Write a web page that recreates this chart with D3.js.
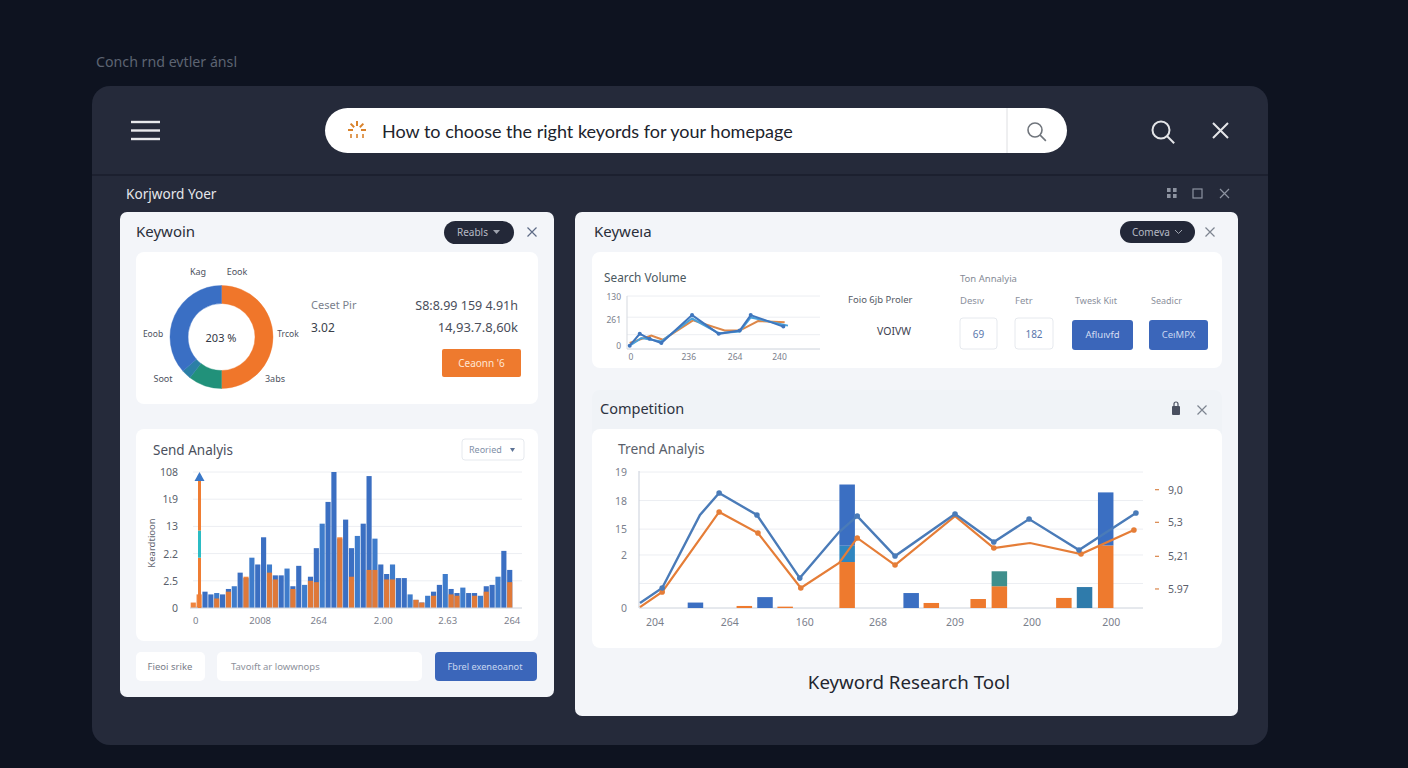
<!DOCTYPE html>
<html lang="en">
<head>
  <meta charset="UTF-8">
  <title>Keyword Research Tool</title>
  <style>
  html, body { margin: 0; padding: 0; background: #0e1320; overflow: hidden; }
  svg { display: block; }
  text { font-family: "Noto Sans", sans-serif; }
  </style>
</head>
<body>
  <div class="dashboard"></div>

  <script src="https://d3js.org/d3.v7.min.js"></script>
  <script>
// donut
const donutValues = [50, 10.5, 3, 36.5]
const donutColors = ["#f0762a", "#21917a", "#2b7fa6", "#3a6fc4"]

// send analysis bars, blue and orange share the categories
const sendBlue = [0, 1, 12, 10, 11, 10, 14, 16, 26, 22, 37, 32, 52, 32, 24, 24, 29, 16, 31, 17, 23, 44, 62, 78, 100, 51, 65, 44, 53, 62, 97, 51, 32, 25, 32, 22, 22, 10, 6, 4, 9, 12, 17, 25, 14, 11, 15, 11, 11, 9, 16, 17, 23, 42, 28]
const sendOrange = [4, 10, 0, 0, 7, 0, 12, 0, 0, 23, 0, 0, 0, 26, 21, 0, 0, 14, 0, 0, 20, 19, 0, 0, 0, 52, 0, 23, 0, 0, 28, 28, 0, 21, 21, 0, 0, 0, 6, 4, 0, 9, 0, 0, 10, 9, 0, 0, 9, 0, 12, 0, 0, 0, 19]
const sendTicks = [0, 20, 40, 60, 80, 100]
const sendTickLabels = ["0", "2.5", "2.2", "13", "1ι9", "108"]
const sendXTicks = [0, 11, 21, 32, 43, 54]
const sendXLabels = ["0", "2008", "264", "2.00", "2.63", "264"]
// coloured arrow axis: orange, teal, orange
const arrowSegments = [[0, 37, "#ef7d33"], [37, 57, "#2bbcc4"], [57, 98, "#ef7d33"]]

// search volume lines
const volBlueX = [1.4, 6.6, 11.7, 17.8, 33.7, 47.5, 58.4, 64.1, 81]
const volBlueY = [6.2, 28.6, 19.3, 11.2, 64, 28.6, 34.8, 64, 42.3]
const volLightX = [2.2, 7.4, 17.8, 33.7, 47.5, 58.4, 64.1, 83.4]
const volLightY = [8, 20.5, 14.4, 57.5, 29.8, 32.9, 59.6, 44.1]
const volOrangeX = [1.4, 12.6, 18.6, 34.2, 50.6, 58.4, 67.9, 81.7]
const volOrangeY = [11.2, 25.5, 17.4, 54, 34.8, 34.8, 52.8, 50.7]
const volGrid = [27, 60, 100]
const volTicks = [7, 55, 100]
const volTickLabels = ["0", "261", "130"]
const volXTicks = [2, 32, 56, 79]
const volXLabels = ["0", "236", "264", "240"]

// trend analysis lines
const trendBlueX = [0.2, 4.6, 12.1, 15.9, 23.4, 31.9, 39.7, 43.3, 50.8, 62.7, 70.4, 77.4, 87.3, 98.6]
const trendBlueY = [3.7, 14.7, 68.4, 84.6, 68.4, 22, 55.9, 67.6, 38.2, 69.1, 48.5, 65.4, 42.6, 69.9]
const trendOrangeX = [0.2, 4.6, 15.9, 23.6, 32.1, 39.7, 43.3, 50.8, 62.7, 70.4, 77.6, 87.7, 98.2]
const trendOrangeY = [0.7, 11.8, 70.6, 55.1, 14.7, 33.1, 51.5, 31.6, 67.6, 44.1, 47.8, 39.7, 57.4]
const trendDotsBlue = [4.6, 15.9, 23.4, 31.9, 43.3, 50.8, 62.7, 70.4, 77.4, 87.3, 98.6]
const trendDotsOrange = [4.6, 15.9, 23.6, 32.1, 43.3, 50.8, 70.4, 87.7, 98.2]

// trend analysis bars
const trendBarX = [11.2, 20.9, 25, 29, 41.3, 54, 58, 67.3, 71.5, 84.3, 88.4, 92.6]
const trendBarOrange = [0, 1.5, 0, 1, 33.8, 0, 3.7, 6.6, 16, 7.4, 0, 46]
const trendBarMid = [0, 0, 0, 0, 12, 0, 0, 0, 11, 0, 15.4, 0]
const trendBarBlue = [4, 0, 8, 0, 45, 11, 0, 0, 0, 0, 0, 39]
const trendTicks = [0, 18, 39, 58, 79, 100]
const trendTickLabels = ["0", "", "2", "15", "18", "19"]
const trendXTicks = [3.2, 18, 32.9, 47.4, 62.7, 78, 93.7]
const trendXLabels = ["204", "264", "160", "268", "209", "200", "200"]
const trendRightTicks = [87, 63, 38, 14]
const trendRightLabels = ["9,0", "5,3", "5,21", "5.97"]

const blue = "#3b6fc2"
const orange = "#ee7a2e"

const svg = d3.select(".dashboard").append("svg")
  .attr("width", 1408)
  .attr("height", 768)

const box = (x, y, w, h, r, fill, stroke) => svg.append("rect")
  .attr("x", x).attr("y", y).attr("width", w).attr("height", h)
  .attr("rx", r)
  .attr("fill", fill)
  .attr("stroke", stroke || "none")

const label = (x, y, str, size, fill, anchor, weight) => svg.append("text")
  .attr("x", x).attr("y", y)
  .attr("font-size", size)
  .attr("fill", fill)
  .attr("text-anchor", anchor || "start")
  .attr("font-weight", weight || 400)
  .text(str)

const crossMark = (cx, cy, r, color, w) => svg.append("path")
  .attr("d", `M${cx - r},${cy - r}L${cx + r},${cy + r}M${cx + r},${cy - r}L${cx - r},${cy + r}`)
  .attr("stroke", color)
  .attr("stroke-width", w)
  .attr("fill", "none")

const lens = (cx, cy, r, color, w) => {
  svg.append("circle").attr("cx", cx).attr("cy", cy).attr("r", r)
    .attr("fill", "none").attr("stroke", color).attr("stroke-width", w)
  svg.append("path").attr("d", `M${cx + r * 0.7},${cy + r * 0.7}L${cx + r * 1.55},${cy + r * 1.55}`)
    .attr("stroke", color).attr("stroke-width", w)
}

// shell
label(96, 67, "Conch rnd evtler ánsl", 14.2, "#5d6472")
box(92, 86, 1176, 659, 18, "#252a3a")
svg.append("line").attr("x1", 92).attr("x2", 1268).attr("y1", 175).attr("y2", 175)
  .attr("stroke", "#1a1e2c").attr("stroke-width", 1.5)

// top bar
d3.range(3).forEach(i => {
  svg.append("line").attr("x1", 131).attr("x2", 160)
    .attr("y1", 122 + i * 8.5).attr("y2", 122 + i * 8.5)
    .attr("stroke", "#e8e9ec").attr("stroke-width", 2.4)
})
box(325, 108, 742, 45, 22.5, "#ffffff")
svg.append("line").attr("x1", 1007).attr("x2", 1007).attr("y1", 108).attr("y2", 153)
  .attr("stroke", "#dedfe2")
// small sparkle mark in front of the query
d3.range(5).forEach(i => {
  const a = -Math.PI + i * Math.PI / 4
  svg.append("line")
    .attr("x1", 357 + 4 * Math.cos(a)).attr("y1", 130 + 4 * Math.sin(a))
    .attr("x2", 357 + 9 * Math.cos(a)).attr("y2", 130 + 9 * Math.sin(a))
    .attr("stroke", "#d9822b").attr("stroke-width", 2)
})
d3.range(3).forEach(i => {
  svg.append("line")
    .attr("x1", 351 + i * 6).attr("x2", 351 + i * 6)
    .attr("y1", 134).attr("y2", 138)
    .attr("stroke", "#d9822b").attr("stroke-width", 1.6)
})
label(382, 138, "How to choose the right keyords for your homepage", 18, "#20232c")
  .style("font-family", "Lato")
lens(1035, 130, 7, "#70757c", 1.6)
lens(1161, 130, 8.5, "#e4e5e8", 2)
crossMark(1220.5, 130.5, 7.5, "#e4e5e8", 2)

label(126, 199, "Korjword Yoer", 13.6, "#e6e7ea")
d3.range(4).forEach(i => {
  svg.append("rect")
    .attr("x", 1167 + (i % 2) * 6).attr("y", 188 + Math.floor(i / 2) * 6)
    .attr("width", 3.6).attr("height", 4)
    .attr("fill", "#8d93a0")
})
svg.append("rect").attr("x", 1193).attr("y", 189).attr("width", 9).attr("height", 9)
  .attr("fill", "none").attr("stroke", "#8d93a0").attr("stroke-width", 1.2)
crossMark(1224.5, 193.5, 4.5, "#8d93a0", 1.2)

// left card
box(120, 212, 434, 485, 7, "#f3f5f9")
label(136, 237, "Keywoin", 15, "#2a2e3a")
box(444, 221, 70, 23, 11.5, "#232838")
label(457, 236, "Reabls", 10, "#b6bac4")
svg.append("path").attr("d", "M493,230l7,0l-3.5,4z").attr("fill", "#9ea3ae")
crossMark(532, 232, 4.5, "#5d6b86", 1.2)
box(136, 252, 402, 152, 8, "#ffffff")

const pie = d3.pie().sort(null)
const arc = d3.arc().innerRadius(33.5).outerRadius(51.5)
const donut = svg.append("g").attr("transform", "translate(221.5,337)")
donut.selectAll("path")
  .data(pie(donutValues))
  .join("path")
  .attr("d", arc)
  .attr("fill", (d, i) => donutColors[i])
  .attr("stroke", (d, i) => donutColors[i])
  .attr("stroke-width", 0.4)
label(221, 342, "203 %", 11, "#333745", "middle")
label(198, 275, "Kag", 9, "#4d5260", "middle")
label(237, 275, "Eook", 9, "#4d5260", "middle")
label(153, 337, "Eoob", 8.5, "#4d5260", "middle")
label(288, 337, "Trcok", 8.5, "#4d5260", "middle")
label(163, 382, "Soot", 9, "#4d5260", "middle")
label(275, 382, "3abs", 9, "#4d5260", "middle")

label(311, 309, "Ceset Pir", 11, "#7a7f8c")
label(311, 332, "3.02", 12, "#3b3f4b")
label(518, 310, "S8:8.99 159 4.91h", 12.5, "#4a4e5a", "end")
label(518, 332, "14,93.7.8,60k", 13, "#4a4e5a", "end")
box(442, 349, 79, 28, 2, orange)
label(481.5, 367, "Ceaonn '6", 10, "#ffe6d4", "middle")

box(136, 429, 402, 212, 8, "#ffffff")
label(153, 455, "Send Analyis", 13.5, "#4a4f5c")
box(462, 439, 62, 21, 3, "#ffffff", "#e6e9ee")
label(469, 453, "Reoried", 9, "#8190a8")
svg.append("path").attr("d", "M510,448l5,0l-2.5,4z").attr("fill", "#5d7396")

// send analysis chart
const sendY = d3.scaleLinear().domain([0, 100]).range([608, 472])
const sendX = d3.scaleBand().domain(d3.range(sendBlue.length)).range([190, 513]).padding(0.12)

const sendGrid = svg.append("g")
sendGrid.selectAll("line").data(sendTicks.slice(1)).join("line")
  .attr("x1", 193).attr("x2", 522)
  .attr("y1", d => sendY(d)).attr("y2", d => sendY(d))
  .attr("stroke", "#eceef2")

svg.append("g").selectAll("rect").data(sendBlue).join("rect")
  .attr("x", (d, i) => sendX(i))
  .attr("y", d => sendY(d))
  .attr("width", sendX.bandwidth())
  .attr("height", d => sendY(0) - sendY(d))
  .attr("fill", (d, i) => i % 3 === 1 ? "#3f7ccb" : blue)
svg.append("g").selectAll("rect").data(sendOrange).join("rect")
  .attr("x", (d, i) => sendX(i))
  .attr("y", d => sendY(d))
  .attr("width", sendX.bandwidth())
  .attr("height", d => sendY(0) - sendY(d))
  .attr("fill", orange)
  .attr("opacity", 0.92)

svg.append("line").attr("x1", 190).attr("x2", 522).attr("y1", sendY(0)).attr("y2", sendY(0))
  .attr("stroke", "#ccd2db")

svg.append("g").selectAll("rect").data(arrowSegments).join("rect")
  .attr("x", 198)
  .attr("y", d => sendY(d[1]))
  .attr("width", 3)
  .attr("height", d => sendY(d[0]) - sendY(d[1]))
  .attr("fill", d => d[2])
svg.append("path").attr("d", `M199.5,${sendY(100)}l5,9l-10,0z`).attr("fill", "#3a78c8")

svg.append("g").selectAll("text").data(sendTicks).join("text")
  .attr("x", 178).attr("y", d => sendY(d) + 4)
  .attr("text-anchor", "end")
  .attr("font-size", 10.5).attr("fill", "#5a5f6b")
  .text((d, i) => sendTickLabels[i])
svg.append("g").selectAll("text").data(sendXTicks).join("text")
  .attr("x", d => sendX(d) + 5).attr("y", 624)
  .attr("text-anchor", "middle")
  .attr("font-size", 9.5).attr("fill", "#7b808c")
  .text((d, i) => sendXLabels[i])
svg.append("text")
  .attr("transform", "translate(155,543) rotate(-90)")
  .attr("text-anchor", "middle")
  .attr("font-size", 9.5).attr("fill", "#5f6470")
  .text("Keardtioon")

// left footer
box(136, 652, 69, 29, 5, "#ffffff")
label(170, 670, "Fieoi srike", 9.5, "#777c88", "middle")
box(217, 652, 205, 29, 5, "#ffffff")
label(231, 670, "Tavoıft ar lowwnops", 9.5, "#8d919b")
box(435, 652, 102, 29, 4, "#3b66ba")
label(485, 670, "Fbrel exeneoanot", 9.2, "#c8d6f0", "middle")

// right card
box(575, 212, 663, 504, 7, "#f3f5f9")
label(594, 237, "Keyweıa", 15, "#2a2e3a")
box(1120, 221, 75, 22, 11, "#232838")
label(1132, 236, "Comeva", 10, "#b6bac4")
svg.append("path").attr("d", "M1175,230l3.5,3.5l3.5,-3.5").attr("fill", "none").attr("stroke", "#9ea3ae")
crossMark(1210, 232, 4.5, "#7d8490", 1.2)
box(592, 252, 630, 116, 8, "#ffffff")

// search volume chart
const volX = d3.scaleLinear().domain([0, 100]).range([627, 820])
const volY = d3.scaleLinear().domain([0, 100]).range([349, 296])
label(604, 282, "Search Volume", 11.8, "#4a5860")
svg.append("g").selectAll("line").data(volGrid).join("line")
  .attr("x1", 627).attr("x2", 820)
  .attr("y1", d => volY(d)).attr("y2", d => volY(d))
  .attr("stroke", "#eceef2")
svg.append("line").attr("x1", 627).attr("x2", 627).attr("y1", 296).attr("y2", 349).attr("stroke", "#d5d9df")
svg.append("line").attr("x1", 627).attr("x2", 820).attr("y1", 349).attr("y2", 349).attr("stroke", "#ccd2db")
svg.append("g").selectAll("text").data(volTicks).join("text")
  .attr("x", 621).attr("y", d => volY(d) + 3.5)
  .attr("text-anchor", "end")
  .attr("font-size", 8.5).attr("fill", "#7b808c")
  .text((d, i) => volTickLabels[i])
svg.append("g").selectAll("text").data(volXTicks).join("text")
  .attr("x", d => volX(d)).attr("y", 360)
  .attr("text-anchor", "middle")
  .attr("font-size", 8.5).attr("fill", "#7b808c")
  .text((d, i) => volXLabels[i])

const volLine = d3.line().x(d => volX(d[0])).y(d => volY(d[1]))
const volSeries = [
  [d3.zip(volOrangeX, volOrangeY), "#dd8748"],
  [d3.zip(volLightX, volLightY), "#4aa0d8"],
  [d3.zip(volBlueX, volBlueY), "#3f76bd"]
]
volSeries.forEach(s => {
  svg.append("path").attr("d", volLine(s[0]))
    .attr("fill", "none").attr("stroke", s[1]).attr("stroke-width", 2)
})
svg.append("g").selectAll("circle").data(d3.zip(volBlueX, volBlueY)).join("circle")
  .attr("cx", d => volX(d[0])).attr("cy", d => volY(d[1])).attr("r", 2)
  .attr("fill", "#3f76bd")

label(848, 303, "Foio 6jb Proler", 9.5, "#555a66")
label(877, 335, "VOIVW", 10.5, "#3d4250")
label(960, 282, "Ton Annalyia", 9.5, "#858a96")
label(960, 304, "Desıv", 9.5, "#8b909c")
label(1015, 304, "Fetr", 9.5, "#8b909c")
label(1075, 304, "Twesk Kiıt", 9, "#8b909c")
label(1151, 304, "Seadicr", 9, "#8b909c")
box(960, 318, 37, 31, 3, "#ffffff", "#e6e9ee")
label(978.5, 338, "69", 10, "#5a78ad", "middle")
box(1015, 318, 38, 31, 3, "#ffffff", "#e6e9ee")
label(1034, 338, "182", 10, "#5a78ad", "middle")
box(1072, 320, 61, 30, 3, "#3b66ba")
label(1102.5, 338, "Afluıvfd", 9.5, "#d5dff2", "middle")
box(1149, 320, 59, 30, 3, "#3b66ba")
label(1178.5, 338, "CeıMPX", 9.5, "#c8d6f0", "middle")

// competition block
box(592, 390, 630, 258, 8, "#f0f3f7")
label(600, 414, "Competition", 14.5, "#2d3240")
svg.append("rect").attr("x", 1172).attr("y", 406).attr("width", 8).attr("height", 9).attr("rx", 1).attr("fill", "#4a5060")
svg.append("path").attr("d", "M1174,406v-2a2,2 0 0 1 4,0v2").attr("fill", "none").attr("stroke", "#4a5060").attr("stroke-width", 1.2)
crossMark(1202, 410, 4.5, "#7d8490", 1.2)
box(592, 429, 630, 219, 8, "#ffffff")
label(618, 454, "Trend Analyis", 13.8, "#5a5f6b")

// trend chart
const trendX = d3.scaleLinear().domain([0, 100]).range([639, 1143])
const trendY = d3.scaleLinear().domain([0, 100]).range([608, 472])

svg.append("g").selectAll("line").data(trendTicks.slice(1)).join("line")
  .attr("x1", 639).attr("x2", 1143)
  .attr("y1", d => trendY(d)).attr("y2", d => trendY(d))
  .attr("stroke", "#eceef2")
svg.append("line").attr("x1", 639).attr("x2", 639).attr("y1", 471).attr("y2", 608).attr("stroke", "#c9cfda")
svg.append("line").attr("x1", 639).attr("x2", 1143).attr("y1", 608).attr("y2", 608).attr("stroke", "#ccd2db")

const barW = 15.5
const bars = svg.append("g")
trendBarX.forEach((x, i) => {
  const o = trendBarOrange[i], m = trendBarMid[i], b = trendBarBlue[i]
  const midColor = o > 0 && b > 0 ? "#2f86c0" : (o > 0 ? "#3f8f8c" : "#2f7bab")
  const stack = [[0, o, orange], [o, o + m, midColor], [o + m, o + m + b, blue]]
  bars.selectAll(null).data(stack.filter(s => s[1] > s[0])).join("rect")
    .attr("x", trendX(x) - barW / 2)
    .attr("y", s => trendY(s[1]))
    .attr("width", barW)
    .attr("height", s => trendY(s[0]) - trendY(s[1]))
    .attr("fill", s => s[2])
})

const trendLine = d3.line().x(d => trendX(d[0])).y(d => trendY(d[1]))
const trendOrangePts = d3.zip(trendOrangeX, trendOrangeY)
const trendBluePts = d3.zip(trendBlueX, trendBlueY)
svg.append("path").attr("d", trendLine(trendOrangePts))
  .attr("fill", "none").attr("stroke", "#e57d37").attr("stroke-width", 2.2)
svg.append("path").attr("d", trendLine(trendBluePts))
  .attr("fill", "none").attr("stroke", "#4a7bb8").attr("stroke-width", 2.4)
svg.append("g").selectAll("circle").data(trendOrangePts.filter(d => trendDotsOrange.includes(d[0]))).join("circle")
  .attr("cx", d => trendX(d[0])).attr("cy", d => trendY(d[1])).attr("r", 2.8)
  .attr("fill", "#e57d37")
svg.append("g").selectAll("circle").data(trendBluePts.filter(d => trendDotsBlue.includes(d[0]))).join("circle")
  .attr("cx", d => trendX(d[0])).attr("cy", d => trendY(d[1])).attr("r", 2.8)
  .attr("fill", "#4a7bb8")

svg.append("g").selectAll("text").data(trendTicks).join("text")
  .attr("x", 627).attr("y", d => trendY(d) + 4)
  .attr("text-anchor", "end")
  .attr("font-size", 10.5).attr("fill", "#7b808c")
  .text((d, i) => trendTickLabels[i])
svg.append("g").selectAll("text").data(trendXTicks).join("text")
  .attr("x", d => trendX(d)).attr("y", 626)
  .attr("text-anchor", "middle")
  .attr("font-size", 10.5).attr("fill", "#7b808c")
  .text((d, i) => trendXLabels[i])

const rightAxis = svg.append("g").selectAll("g").data(trendRightTicks).join("g")
  .attr("transform", d => `translate(0,${trendY(d)})`)
rightAxis.append("line").attr("x1", 1155).attr("x2", 1159)
  .attr("stroke", "#d9854a").attr("stroke-width", 1.2)
rightAxis.append("text").attr("x", 1168).attr("y", 4)
  .attr("font-size", 10.5).attr("fill", "#5c606c")
  .text((d, i) => trendRightLabels[i])

label(909, 689, "Keyword Research Tool", 18.7, "#23262f", "middle")
  </script>
</body>
</html>
